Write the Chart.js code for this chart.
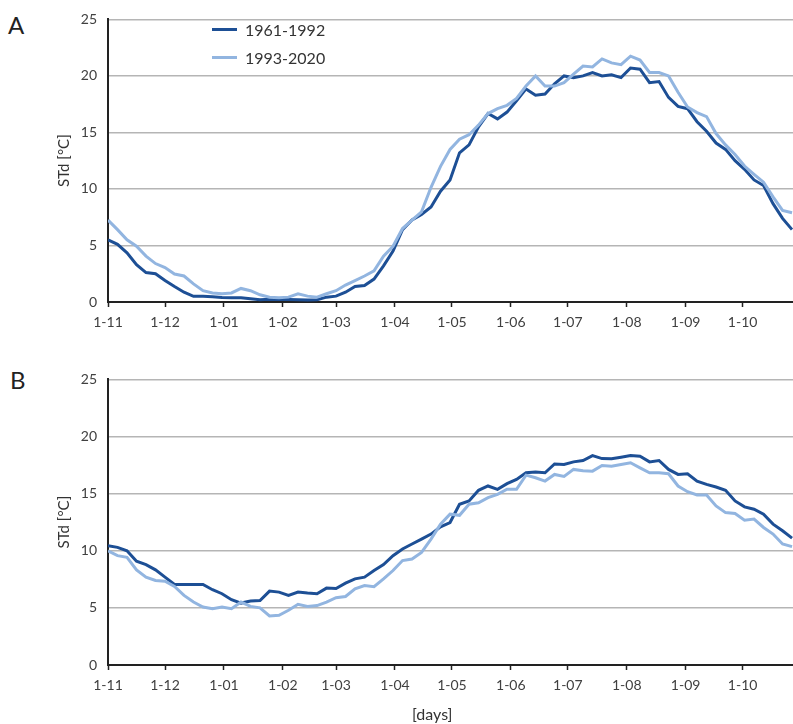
<!DOCTYPE html>
<html>
<head>
<meta charset="utf-8">
<script src="https://cdn.jsdelivr.net/npm/chart.js@4.4.1/dist/chart.umd.min.js"></script>
<style>
  body { margin: 0; background: #fff; font-family: Lato, sans-serif; color: #222; }
  #wrap { position: relative; width: 793px; height: 724px; overflow: hidden; }
  canvas { position: absolute; left: 0; }
  .panel { position: absolute; font-size: 24px; line-height: 24px; color: #222; }
  .legend { position: absolute; left: 212px; font-size: 16px; color: #333; }
  .legend div { position: relative; height: 28px; line-height: 28px; padding-left: 33px; }
  .legend span { position: absolute; left: 0; top: 12px; width: 25px; height: 3px; }
  #days { position: absolute; left: 412px; top: 704px; font-size: 16px; color: #333; }
</style>
</head>
<body>
<div id="wrap">
  <div class="panel" style="left:8px; top:13px;">A</div>
  <div class="panel" style="left:10px; top:368px;">B</div>
  <canvas id="chartA" width="793" height="345" style="top:0"></canvas>
  <canvas id="chartB" width="793" height="364" style="top:360px"></canvas>
  <div class="legend" style="top:16px;">
    <div><span style="background:#1d4f95"></span>1961-1992</div>
    <div><span style="background:#92b5e0"></span>1993-2020</div>
  </div>
  <div id="days">[days]</div>
</div>
<script>
// day index counted from 1 November, one value every 5 days
const days = [];
for (let d = 0; d <= 360; d += 5) days.push(d);

const monthStarts = [0, 30, 61, 92, 120, 151, 181, 212, 242, 273, 304, 334];
const monthLabels = ['1-11', '1-12', '1-01', '1-02', '1-03', '1-04', '1-05', '1-06', '1-07', '1-08', '1-09', '1-10'];
const yTicks = [0, 5, 10, 15, 20, 25];

// panel A
const aOld = [5.5, 5.1, 4.35, 3.3, 2.6, 2.5, 1.9, 1.37, 0.87, 0.5, 0.5, 0.47, 0.4, 0.37, 0.37, 0.28, 0.2, 0.25,
  0.23, 0.23, 0.2, 0.17, 0.2, 0.43, 0.52, 0.87, 1.37, 1.45, 2.03, 3.2, 4.5, 6.4, 7.25, 7.75, 8.4, 9.8,
  10.8, 13.2, 13.9, 15.5, 16.67, 16.2, 16.8, 17.8, 18.85, 18.3, 18.4, 19.3, 20.0, 19.85, 20.0, 20.3, 20.0, 20.1,
  19.85, 20.7, 20.6, 19.4, 19.5, 18.1, 17.3, 17.1, 15.95, 15.1, 14.06, 13.5, 12.5, 11.74, 10.8, 10.3, 8.7, 7.4, 6.4];
const aNew = [7.25, 6.4, 5.5, 4.93, 4.06, 3.4, 3.05, 2.47, 2.3, 1.6, 1.0, 0.8, 0.73, 0.8, 1.2, 1.0, 0.64, 0.43,
  0.38, 0.43, 0.73, 0.52, 0.43, 0.73, 1.0, 1.5, 1.9, 2.3, 2.75, 4.06, 4.93, 6.5, 7.25, 7.97, 10.15, 12.0,
  13.5, 14.4, 14.8, 15.65, 16.67, 17.1, 17.4, 18.0, 19.1, 20.0, 19.1, 19.1, 19.4, 20.15, 20.87, 20.8, 21.5, 21.15,
  21.0, 21.75, 21.4, 20.3, 20.3, 20.0, 18.55, 17.25, 16.75, 16.4, 14.9, 13.9, 13.05, 12.03, 11.3, 10.6, 9.3, 8.1, 7.9];

// panel B
const bOld = [10.44, 10.3, 10.0, 9.08, 8.79, 8.33, 7.69, 7.05, 7.05, 7.05, 7.05, 6.59, 6.24, 5.72, 5.42, 5.6, 5.65, 6.47,
  6.38, 6.1, 6.38, 6.3, 6.24, 6.73, 6.7, 7.16, 7.54, 7.69, 8.27, 8.79, 9.57, 10.15, 10.59, 11.02, 11.46, 12.1,
  12.47, 14.07, 14.36, 15.29, 15.67, 15.38, 15.87, 16.25, 16.83, 16.9, 16.83, 17.6, 17.55, 17.78, 17.9, 18.33, 18.07, 18.05,
  18.19, 18.33, 18.28, 17.78, 17.9, 17.12, 16.68, 16.74, 16.1, 15.81, 15.58, 15.29, 14.36, 13.84, 13.64, 13.2, 12.33, 11.75, 11.11];
const bNew = [10.0, 9.57, 9.42, 8.33, 7.69, 7.4, 7.34, 6.88, 6.09, 5.51, 5.08, 4.93, 5.08, 4.93, 5.51, 5.13, 5.0, 4.3,
  4.35, 4.79, 5.31, 5.13, 5.2, 5.51, 5.89, 6.0, 6.67, 6.96, 6.85, 7.54, 8.27, 9.14, 9.28, 9.86, 11.02, 12.33,
  13.2, 13.1, 14.07, 14.2, 14.65, 14.94, 15.38, 15.38, 16.62, 16.39, 16.1, 16.68, 16.5, 17.12, 17.0, 16.97, 17.47, 17.4,
  17.55, 17.7, 17.26, 16.83, 16.83, 16.74, 15.67, 15.17, 14.88, 14.88, 13.93, 13.34, 13.26, 12.68, 12.77, 12.04, 11.46, 10.59, 10.36];

const darkBlue = '#1d4f95';
const lightBlue = '#92b5e0';

Chart.defaults.font.family = 'Lato, sans-serif';
Chart.defaults.color = '#404040';

function points(values) {
  return days.map((d, i) => ({ x: d, y: values[i] }));
}

function makeChart(id, oldVals, newVals, padTop, xHeight) {
  return new Chart(document.getElementById(id), {
    type: 'line',
    data: {
      datasets: [
        { label: '1993-2020', data: points(newVals), borderColor: lightBlue, borderWidth: 3, pointRadius: 0, tension: 0 },
        { label: '1961-1992', data: points(oldVals), borderColor: darkBlue, borderWidth: 3, pointRadius: 0, tension: 0 }
      ]
    },
    options: {
      responsive: false,
      animation: false,
      devicePixelRatio: 1,
      layout: { padding: { top: padTop, right: 0, bottom: 0, left: 0 } },
      plugins: { legend: { display: false }, tooltip: { enabled: false } },
      scales: {
        x: {
          type: 'linear',
          min: 0,
          max: 360.5,
          afterBuildTicks: (s) => { s.ticks = monthStarts.map(v => ({ value: v })); },
          afterFit: (s) => { s.height = xHeight; },
          ticks: {
            font: { size: 14 },
            padding: 7,
            maxRotation: 0,
            autoSkip: false,
            callback: (v) => monthLabels[monthStarts.indexOf(v)]
          },
          grid: { drawOnChartArea: false, drawTicks: true, tickLength: 5, tickColor: '#222', tickWidth: 1.5 },
          border: { color: '#222', width: 2 }
        },
        y: {
          min: 0,
          max: 25,
          afterBuildTicks: (s) => { s.ticks = yTicks.map(v => ({ value: v })); },
          afterFit: (s) => { s.width = 108; },
          ticks: { font: { size: 14 }, padding: 11 },
          grid: { color: '#b5b5b5', lineWidth: 1.5, drawTicks: false },
          border: { color: '#222', width: 2 },
          title: { display: true, text: 'STd [°C]', font: { size: 15 }, color: '#333', padding: { top: 55, bottom: 0 } }
        }
      }
    }
  });
}

makeChart('chartA', aOld, aNew, 14, 43);
makeChart('chartB', bOld, bNew, 17.5, 59);
</script>
</body>
</html>
